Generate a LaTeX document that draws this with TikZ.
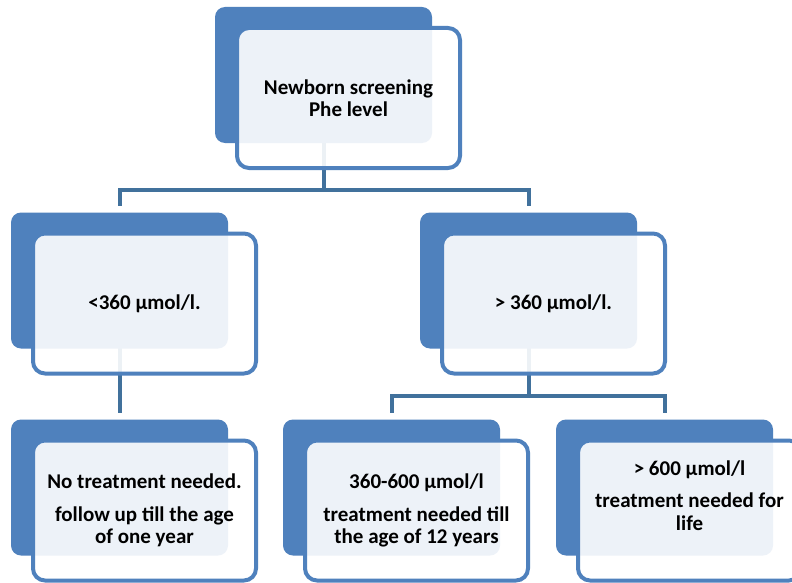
\documentclass[tikz,border=0pt]{standalone}
\usepackage{fontspec}
\setmainfont{Carlito}
\usetikzlibrary{positioning, calc, backgrounds}
\definecolor{boxblue}{HTML}{4F81BD}
\definecolor{lineblue}{HTML}{41719C}

\begin{document}
\begin{tikzpicture}[
    x=1pt, y=-1pt,
    back/.style={fill=boxblue, rounded corners=10pt, minimum width=217pt, minimum height=136pt, inner sep=0pt},
    front/.style={draw=boxblue, line width=4pt, fill=white, fill opacity=0.9, rounded corners=12pt, minimum width=223pt, minimum height=140pt, inner sep=0pt},
    txt/.style={align=center, font=\bfseries\fontsize{21}{22.5}\selectfont, text=black},
    conn/.style={draw=lineblue, line width=4pt, shorten >=6pt},
]
    \useasboundingbox (0,0) rectangle (792,583);
    \clip (0,0) rectangle (792,583);

    % Back boxes
    \node[back] (topb) at (323.5,75) {};
    \node[back] (lmb) at (119.5,280.5) {};
    \node[back] (rmb) at (528.5,280.5) {};
    \node[back] (blb) at (119.5,487.5) {};
    \node[back] (bmb) at (391.5,487.5) {};
    \node[back] (brb) at (664.5,487.5) {};

    % Connectors (behind the boxes)
    \coordinate (split1) at (323.5,190);
    \coordinate (split2) at (528.5,396);
    \begin{scope}[on background layer]
        \fill[white] (0,0) rectangle (792,583);
        \draw[conn, shorten >=0pt] (topb.center) -- (split1);
        \draw[conn] (split1) -| (lmb.north);
        \draw[conn] (split1) -| (rmb.north);
        \draw[conn] (lmb.center) -- (blb.north);
        \draw[conn, shorten >=0pt] (rmb.center) -- (split2);
        \draw[conn] (split2) -| (bmb.north);
        \draw[conn] (split2) -| (brb.north);
    \end{scope}

    % Front boxes
    \node[front] (topf) at ([shift={(25,23)}]topb) {};
    \node[front] (lmf) at ([shift={(25,23)}]lmb) {};
    \node[front] (rmf) at ([shift={(25,23)}]rmb) {};
    \node[front] (blf) at ([shift={(25,23)}]blb) {};
    \node[front] (bmf) at ([shift={(25,23)}]bmb) {};
    \node[front] (brf) at ([shift={(25,23)}]brb) {};

    % Texts
    \node[txt] (toptxt) at (topf) {Newborn screening\\Phe level};
    \node[txt] (lmtxt) at (lmf) {<360 µmol/l.};
    \node[txt] (rmtxt) at (rmf) {> 360 µmol/l.};
    \node[txt] (bltxt) at (blf) {No treatment needed.\\[10pt]follow up till the age\\of one year};
    \node[txt] (bmtxt) at (bmf) {360-600 µmol/l\\[10pt]treatment needed till\\the age of 12 years};
    \node[txt] (brtxt) at ([yshift=15pt]brf) {> 600 µmol/l\\[10pt]treatment needed for\\life};

\end{tikzpicture}
\end{document}
